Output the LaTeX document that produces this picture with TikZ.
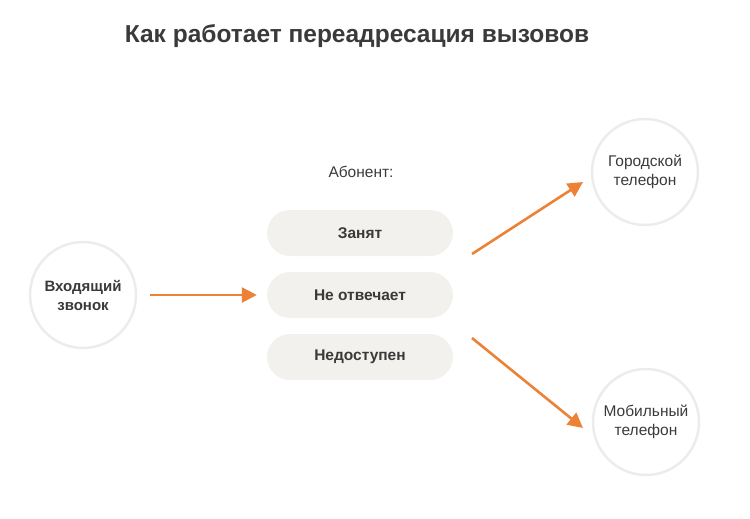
\documentclass[tikz,border=0pt]{standalone}
\usepackage{fontspec}
\setmainfont{Liberation Sans}
\usetikzlibrary{arrows.meta}
\definecolor{txt}{HTML}{3A3A3A}
\definecolor{ring}{HTML}{EEECEA}
\definecolor{pill}{HTML}{F3F1EE}
\definecolor{orng}{HTML}{EB8236}
\tikzset{
  circ/.style={circle, draw=ring, line width=2.5pt, fill=white, minimum size=106pt, inner sep=0pt, align=center, text=txt, font=\fontsize{15.5}{19}\selectfont},
  pillbox/.style={rounded corners=23pt, fill=pill, minimum width=186pt, minimum height=46pt, inner sep=0pt, text=txt, font=\fontsize{15.5}{19}\selectfont\bfseries},
  arr/.style={draw=orng, line width=2.6pt, -{Triangle[length=15pt,width=15pt]}}
}
\begin{document}
\begin{tikzpicture}[x=1pt,y=-1pt]
\useasboundingbox (0,0) rectangle (750,519);
\node[text=txt, font=\fontsize{24.5}{28}\selectfont\bfseries] (title) at (357,36) {Как работает переадресация вызовов};
\node[circ, font=\fontsize{15}{19}\selectfont\bfseries] (in) at (83,295) {Входящий\\звонок};
\node[text=txt, font=\fontsize{15.5}{19}\selectfont] (ab) at (361,172) {Абонент:};
\node[pillbox] (p1) at (360,233) {Занят};
\node[pillbox] (p2) at (360,295) {Не отвечает};
\node[pillbox] (p3) at (360,357) {Недоступен};
\node[circ] (c1) at (645,172) {Городской\\телефон};
\node[circ] (c2) at (646,422) {Мобильный\\телефон};
\coordinate (a1s) at (472,254);
\coordinate (a1e) at (583,182);
\coordinate (a2s) at (472,338);
\coordinate (a2e) at (583,428);
\draw[arr] ([xshift=13pt]in.east) -- ([xshift=-10pt]p2.west);
\draw[arr] (a1s) -- (a1e);
\draw[arr] (a2s) -- (a2e);
\end{tikzpicture}
\end{document}
